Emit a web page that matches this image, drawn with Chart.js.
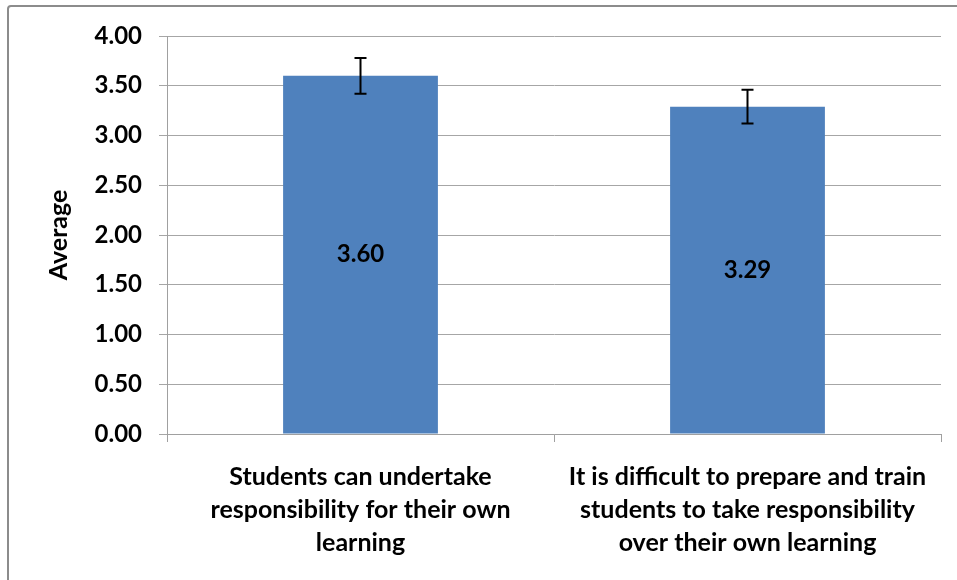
<!DOCTYPE html>
<html>
<head>
<meta charset="utf-8">
<script src="https://cdn.jsdelivr.net/npm/chart.js@4/dist/chart.umd.min.js"></script>
<style>
	html, body {margin: 0; padding: 0; background: #fff; overflow: hidden;}
	#wrap {position: relative; width: 957px; height: 580px;}
	#frame {position: absolute; left: 7px; top: 5px; width: 1000px; height: 700px; border: 2px solid #8c8c8c; border-radius: 4px; box-sizing: border-box;}
	canvas {position: absolute; left: 0; top: 0;}
</style>
</head>
<body>
<div id="wrap">
	<div id="frame"></div>
	<canvas id="avgChart" width="957" height="580"></canvas>
</div>
<script>
// data
var categories = [
	['Students can undertake', 'responsibility for their own', 'learning'],
	['It is difficult to prepare and train', 'students to take responsibility', 'over their own learning']
];
var averages = [3.60, 3.29];
var errors = [0.18, 0.17];
var yTicks = [0, 0.5, 1, 1.5, 2, 2.5, 3, 3.5, 4];

var fontName = "Lato, 'Open Sans', sans-serif";

// error bars + value labels drawn on the bars
var extras = {
	id: 'extras',
	afterDatasetsDraw: function(chart) {
		var ctx = chart.ctx;
		var y = chart.scales.y;
		var bars = chart.getDatasetMeta(0).data;
		ctx.save();
		for (var i = 0; i < bars.length; i++) {
			var b = bars[i];
			// value label in middle of bar
			ctx.fillStyle = '#000';
			ctx.font = 'bold 24px ' + fontName;
			ctx.textAlign = 'center';
			ctx.textBaseline = 'middle';
			ctx.fillText(averages[i].toFixed(2), b.x, (b.y + b.base) / 2);
			// error bar
			var top = y.getPixelForValue(averages[i] + errors[i]);
			var bot = y.getPixelForValue(averages[i] - errors[i]);
			ctx.strokeStyle = '#000';
			ctx.lineWidth = 2;
			ctx.beginPath();
			ctx.moveTo(b.x, top); ctx.lineTo(b.x, bot);
			ctx.moveTo(b.x - 6, top); ctx.lineTo(b.x + 6, top);
			ctx.moveTo(b.x - 6, bot); ctx.lineTo(b.x + 6, bot);
			ctx.stroke();
		}
		ctx.restore();
	}
};

new Chart('avgChart', {
	type: 'bar',
	data: {
		labels: categories,
		datasets: [{
			data: averages,
			backgroundColor: '#4f81bd',
			borderWidth: 0,
			categoryPercentage: 0.4,
			barPercentage: 1
		}]
	},
	options: {
		responsive: false,
		animation: false,
		events: [],
		layout: {padding: {top: 36, right: 16, left: 0, bottom: 0}},
		plugins: {
			legend: {display: false},
			tooltip: {enabled: false}
		},
		scales: {
			x: {
				offset: true,
				grid: {display: true, drawOnChartArea: false, drawTicks: true, tickLength: 8, offset: true, color: '#a0a0a0'},
				border: {color: '#a0a0a0', width: 1},
				ticks: {color: '#000', font: {family: fontName, size: 25, weight: 'bold', lineHeight: 1.32}, padding: 18, maxRotation: 0, autoSkip: false},
				afterFit: function(s) { s.height = 146; }
			},
			y: {
				min: 0,
				max: 4,
				afterBuildTicks: function(s) { s.ticks = yTicks.map(function(v) { return {value: v}; }); },
				grid: {color: '#a6a6a6', tickLength: 8},
				border: {color: '#a0a0a0', width: 1},
				ticks: {color: '#000', font: {family: fontName, size: 24, weight: 'bold'}, padding: 17,
					callback: function(v) { return v.toFixed(2); }},
				title: {display: true, text: 'Average', color: '#000', font: {family: fontName, size: 25, weight: 'bold'}, padding: {top: 44, bottom: 0}},
				afterFit: function(s) { s.width = 167; }
			}
		}
	},
	plugins: [extras]
});
</script>
</body>
</html>
